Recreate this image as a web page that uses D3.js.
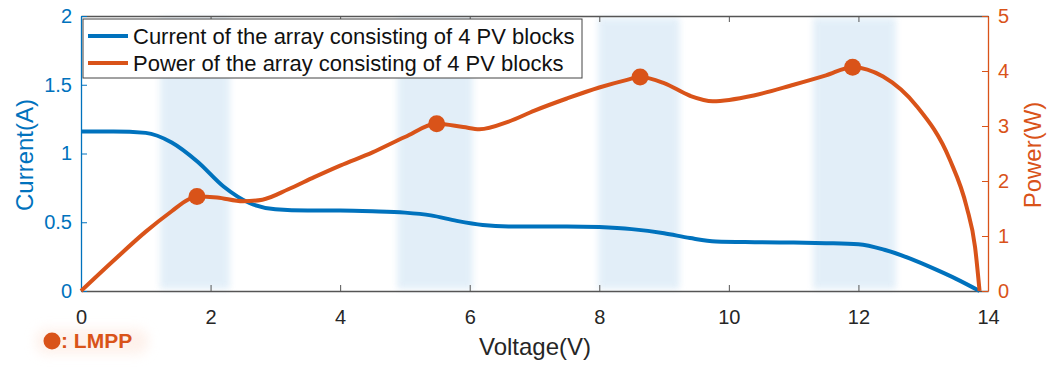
<!DOCTYPE html>
<html><head><meta charset="utf-8">
<script src="https://cdn.jsdelivr.net/npm/d3@7"></script>
<style>body{margin:0;background:#fff;} svg{font-family:"Liberation Sans",Arial,sans-serif;display:block;}</style>
</head><body>
<svg id="chart" width="1051" height="368"></svg>
<script>
// ---- data ----
const currentV = [0, 0.5, 1.0, 1.4, 1.8, 2.2, 2.6, 3.0, 3.5, 4.0, 4.5, 5.0, 5.4, 5.8, 6.2, 6.6, 7.0, 7.5, 8.0, 8.5, 9.0, 9.4, 9.8, 10.4, 11.0, 11.5, 12.0, 12.4, 12.8, 13.2, 13.5, 13.87];
const currentA = [1.16, 1.16, 1.15, 1.08, 0.94, 0.76, 0.64, 0.595, 0.585, 0.585, 0.58, 0.57, 0.55, 0.51, 0.48, 0.47, 0.47, 0.47, 0.465, 0.45, 0.42, 0.385, 0.36, 0.355, 0.352, 0.348, 0.34, 0.3, 0.235, 0.155, 0.09, 0];
const powerV = [0, 0.5, 1.0, 1.4, 1.65, 1.79, 2.1, 2.5, 2.8, 3.2, 3.6, 4.0, 4.5, 5.0, 5.49, 5.9, 6.15, 6.6, 7.0, 7.5, 8.0, 8.4, 8.63, 9.0, 9.4, 9.75, 10.4, 11.0, 11.5, 11.91, 12.38, 12.9, 13.41, 13.67, 13.8, 13.87];
const powerW = [0, 0.55, 1.08, 1.45, 1.66, 1.72, 1.70, 1.63, 1.66, 1.85, 2.07, 2.28, 2.52, 2.8, 3.04, 2.98, 2.94, 3.08, 3.28, 3.5, 3.7, 3.83, 3.89, 3.78, 3.55, 3.45, 3.56, 3.75, 3.92, 4.07, 3.9, 3.36, 2.39, 1.53, 0.8, 0];
const lmppV = [1.79, 5.49, 8.63, 11.91];
const lmppW = [1.72, 3.04, 3.89, 4.07];
const bandStart = [1.22, 4.88, 7.98, 11.3];
const bandEnd = [2.3, 6.05, 9.24, 12.58];
const xTicks = [0, 2, 4, 6, 8, 10, 12, 14];
const leftTicks = [0, 0.5, 1, 1.5, 2];
const rightTicks = [0, 1, 2, 3, 4, 5];
const legendLabels = ["Current of the array consisting of 4 PV blocks", "Power of the array consisting of 4 PV blocks"];

// ---- layout ----
const BLUE = "#0072BD", ORANGE = "#D95319", DARK = "#262626";
const L = 81, R = 988, T = 16, B = 291;
const svg = d3.select("#chart");
const x = d3.scaleLinear().domain([0, 14]).range([L, R]);
const yL = d3.scaleLinear().domain([0, 2]).range([B, T]);
const yR = d3.scaleLinear().domain([0, 5]).range([B, T]);

const defs = svg.append("defs");
defs.append("filter").attr("id", "blur").attr("x", "-20%").attr("y", "-20%").attr("width", "140%").attr("height", "140%")
  .append("feGaussianBlur").attr("stdDeviation", 3);
defs.append("filter").attr("id", "glow").attr("x", "-30%").attr("y", "-50%").attr("width", "160%").attr("height", "200%")
  .append("feGaussianBlur").attr("stdDeviation", 6);

// bands
svg.append("g").selectAll("rect").data(bandStart).join("rect")
  .attr("x", (d) => x(d)).attr("y", T + 2)
  .attr("width", (d, i) => x(bandEnd[i]) - x(d)).attr("height", B - T - 4)
  .attr("fill", "#dcebf7").attr("opacity", 0.8).attr("filter", "url(#blur)");

const FONT = "Liberation Sans, Arial, sans-serif";
// axes
const gB = svg.append("g").attr("transform", `translate(0,${B})`)
  .call(d3.axisBottom(x).tickValues(xTicks).tickSizeInner(-6).tickSizeOuter(0).tickPadding(19));
gB.select(".domain").attr("stroke", "#555").attr("stroke-width", 1.3);
gB.selectAll(".tick line").attr("stroke", "#555");
gB.selectAll("text").attr("fill", DARK).attr("font-size", 20).attr("font-family", FONT);

const gT = svg.append("g").attr("transform", `translate(0,${T})`)
  .call(d3.axisTop(x).tickValues(xTicks).tickSizeInner(-6).tickSizeOuter(0).tickFormat(""));
gT.select(".domain").attr("stroke", "#555").attr("stroke-width", 1.3);
gT.selectAll(".tick line").attr("stroke", "#555");

const gL = svg.append("g").attr("transform", `translate(${L},0)`)
  .call(d3.axisLeft(yL).tickValues(leftTicks).tickSizeInner(-6).tickSizeOuter(0).tickPadding(9).tickFormat(d3.format("~g")));
gL.select(".domain").attr("stroke", BLUE).attr("stroke-width", 1.3);
gL.selectAll(".tick line").attr("stroke", BLUE);
gL.selectAll("text").attr("fill", BLUE).attr("font-size", 20).attr("font-family", FONT);

const gR = svg.append("g").attr("transform", `translate(${R},0)`)
  .call(d3.axisRight(yR).tickValues(rightTicks).tickSizeInner(-6).tickSizeOuter(0).tickPadding(10).tickFormat(d3.format("d")));
gR.select(".domain").attr("stroke", ORANGE).attr("stroke-width", 1.3);
gR.selectAll(".tick line").attr("stroke", ORANGE);
gR.selectAll("text").attr("fill", ORANGE).attr("font-size", 20).attr("font-family", FONT);

// axis titles
svg.append("text").text("Voltage(V)").attr("x", 535).attr("y", 355).attr("text-anchor", "middle")
  .attr("font-size", 24).attr("fill", DARK);
svg.append("text").text("Current(A)").attr("transform", "translate(33,155) rotate(-90)").attr("text-anchor", "middle")
  .attr("font-size", 24).attr("fill", BLUE);
svg.append("text").text("Power(W)").attr("transform", "translate(1041,155) rotate(-90)").attr("text-anchor", "middle")
  .attr("font-size", 24).attr("fill", ORANGE);

// lines
const lineI = d3.line().x((d, i) => x(currentV[i])).y((d) => yL(d)).curve(d3.curveMonotoneX);
const lineP = d3.line().x((d, i) => x(powerV[i])).y((d) => yR(d)).curve(d3.curveMonotoneX);
svg.append("path").attr("d", lineI(currentA)).attr("fill", "none").attr("stroke", BLUE).attr("stroke-width", 4).attr("stroke-linejoin", "round");
svg.append("path").attr("d", lineP(powerW)).attr("fill", "none").attr("stroke", ORANGE).attr("stroke-width", 4).attr("stroke-linejoin", "round");
svg.append("g").selectAll("circle").data(lmppW).join("circle")
  .attr("cx", (d, i) => x(lmppV[i])).attr("cy", (d) => yR(d)).attr("r", 8.5).attr("fill", ORANGE);

// legend
const lg = svg.append("g");
lg.append("rect").attr("x", 83).attr("y", 19).attr("width", 499).attr("height", 59)
  .attr("fill", "#fff").attr("stroke", "#444").attr("stroke-width", 1);
const legColors = [BLUE, ORANGE];
legendLabels.forEach((lab, i) => {
  const yy = 36 + i * 27;
  lg.append("line").attr("x1", 88).attr("x2", 128).attr("y1", yy).attr("y2", yy).attr("stroke", legColors[i]).attr("stroke-width", 4);
  lg.append("text").text(lab).attr("x", 133).attr("y", yy + 8).attr("font-size", 22).attr("fill", "#111");
});

// LMPP note
const note = svg.append("g");
note.append("rect").attr("x", 36).attr("y", 329).attr("width", 112).attr("height", 25).attr("rx", 10)
  .attr("fill", "#fde8de").attr("opacity", 0.6).attr("filter", "url(#glow)");
note.append("circle").attr("cx", 52).attr("cy", 341).attr("r", 8.5).attr("fill", ORANGE);
note.append("text").text(": LMPP").attr("x", 61).attr("y", 348).attr("font-size", 21).attr("font-weight", "bold").attr("fill", ORANGE);
</script>
</body></html>
